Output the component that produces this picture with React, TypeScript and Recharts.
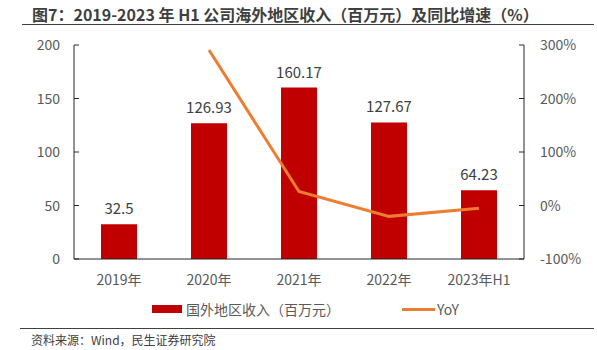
import React from 'react';
import { ComposedChart, Bar, Line, XAxis, YAxis, LabelList, Legend } from 'recharts';

// values
const years = ['2019年', '2020年', '2021年', '2022年', '2023年H1'];
const revenue = [32.5, 126.93, 160.17, 127.67, 64.23];
const yoy = [null, 290.6, 26.2, -20.3, -5];
const leftTicks = [0, 50, 100, 150, 200];
const rightTicks = [-100, 0, 100, 200, 300];

const data = years.map((y, i) => ({ year: y, revenue: revenue[i], yoy: yoy[i] }));

const FONT = '"Microsoft YaHei", "Noto Sans CJK SC", "Noto Sans", sans-serif';
const RED = '#C00000';
const ORANGE = '#ED7D31';

const LeftTick = (props: any) => {
    const { x, y, payload } = props;
    return (
        <g>
            <line x1={x + 8} x2={x + 13} y1={y} y2={y} stroke="#262626" />
            <text x={x - 6} y={y} dy={5} textAnchor="end" fill="#595959" fontSize={14} fontFamily={FONT}>
                {payload.value}
            </text>
        </g>
    );
};

const RightTick = (props: any) => {
    const { x, y, payload } = props;
    return (
        <g>
            <line x1={x - 13} x2={x - 8} y1={y} y2={y} stroke="#262626" />
            <text x={x + 8} y={y} dy={5} textAnchor="start" fill="#595959" fontSize={14} fontFamily={FONT}>
                {payload.value + '%'}
            </text>
        </g>
    );
};

const LegendBox = () => (
    <div style={{ display: 'flex', justifyContent: 'flex-start', alignItems: 'center', fontFamily: FONT, fontSize: 14, color: '#595959', paddingLeft: 152, paddingTop: 4 }}>
        <span style={{ display: 'inline-block', width: 30, height: 8, background: RED, marginRight: 4 }} />
        <span>国外地区收入（百万元）</span>
        <span style={{ display: 'inline-block', width: 33, height: 3, background: ORANGE, marginLeft: 62, marginRight: 2 }} />
        <span>YoY</span>
    </div>
);

const App: React.FC = () => {
    return (
        <div style={{ position: 'absolute', left: 0, top: 0, width: 597, height: 350, background: '#fff', fontFamily: FONT }}>
            <div style={{ position: 'absolute', left: 32, top: 2, fontSize: 16, fontWeight: 'bold', color: '#3F3F3F', whiteSpace: 'nowrap' }}>
                图7：2019-2023 年 H1 公司海外地区收入（百万元）及同比增速（%）
            </div>
            <div style={{ position: 'absolute', left: 22, right: 3, top: 24, borderTop: '1px solid #404040' }} />
            <div style={{ position: 'absolute', left: 0, top: 0 }}>
                <ComposedChart width={597} height={325} data={data} margin={{ top: 45, right: 0, left: 0, bottom: 0 }}>
                    <XAxis
                        dataKey="year"
                        height={36}
                        tickLine={false}
                        stroke="#262626"
                        tick={{ fill: '#595959', fontSize: 14, fontFamily: FONT }}
                        tickMargin={10}
                    />
                    <YAxis
                        yAxisId="left"
                        width={74}
                        domain={[0, 200]}
                        ticks={leftTicks}
                        tickLine={false}
                        stroke="#262626"
                        tick={<LeftTick />}
                    />
                    <YAxis
                        yAxisId="right"
                        orientation="right"
                        width={73}
                        domain={[-100, 300]}
                        ticks={rightTicks}
                        tickLine={false}
                        stroke="#262626"
                        tick={<RightTick />}
                    />
                    <Legend content={<LegendBox />} verticalAlign="bottom" height={30} />
                    <Bar yAxisId="left" dataKey="revenue" fill={RED} barSize={36} isAnimationActive={false}>
                        <LabelList dataKey="revenue" position="top" offset={10} fill="#404040" fontSize={15} fontFamily={FONT} />
                    </Bar>
                    <Line
                        yAxisId="right"
                        dataKey="yoy"
                        stroke={ORANGE}
                        strokeWidth={3}
                        dot={false}
                        type="linear"
                        connectNulls
                        isAnimationActive={false}
                    />
                </ComposedChart>
            </div>
            <div style={{ position: 'absolute', left: 20, right: 3, top: 328, borderTop: '1px solid #404040' }} />
            <div style={{ position: 'absolute', left: 31, top: 331, fontSize: 12, color: '#404040' }}>
                资料来源：Wind，民生证券研究院
            </div>
        </div>
    );
};

export default App;
